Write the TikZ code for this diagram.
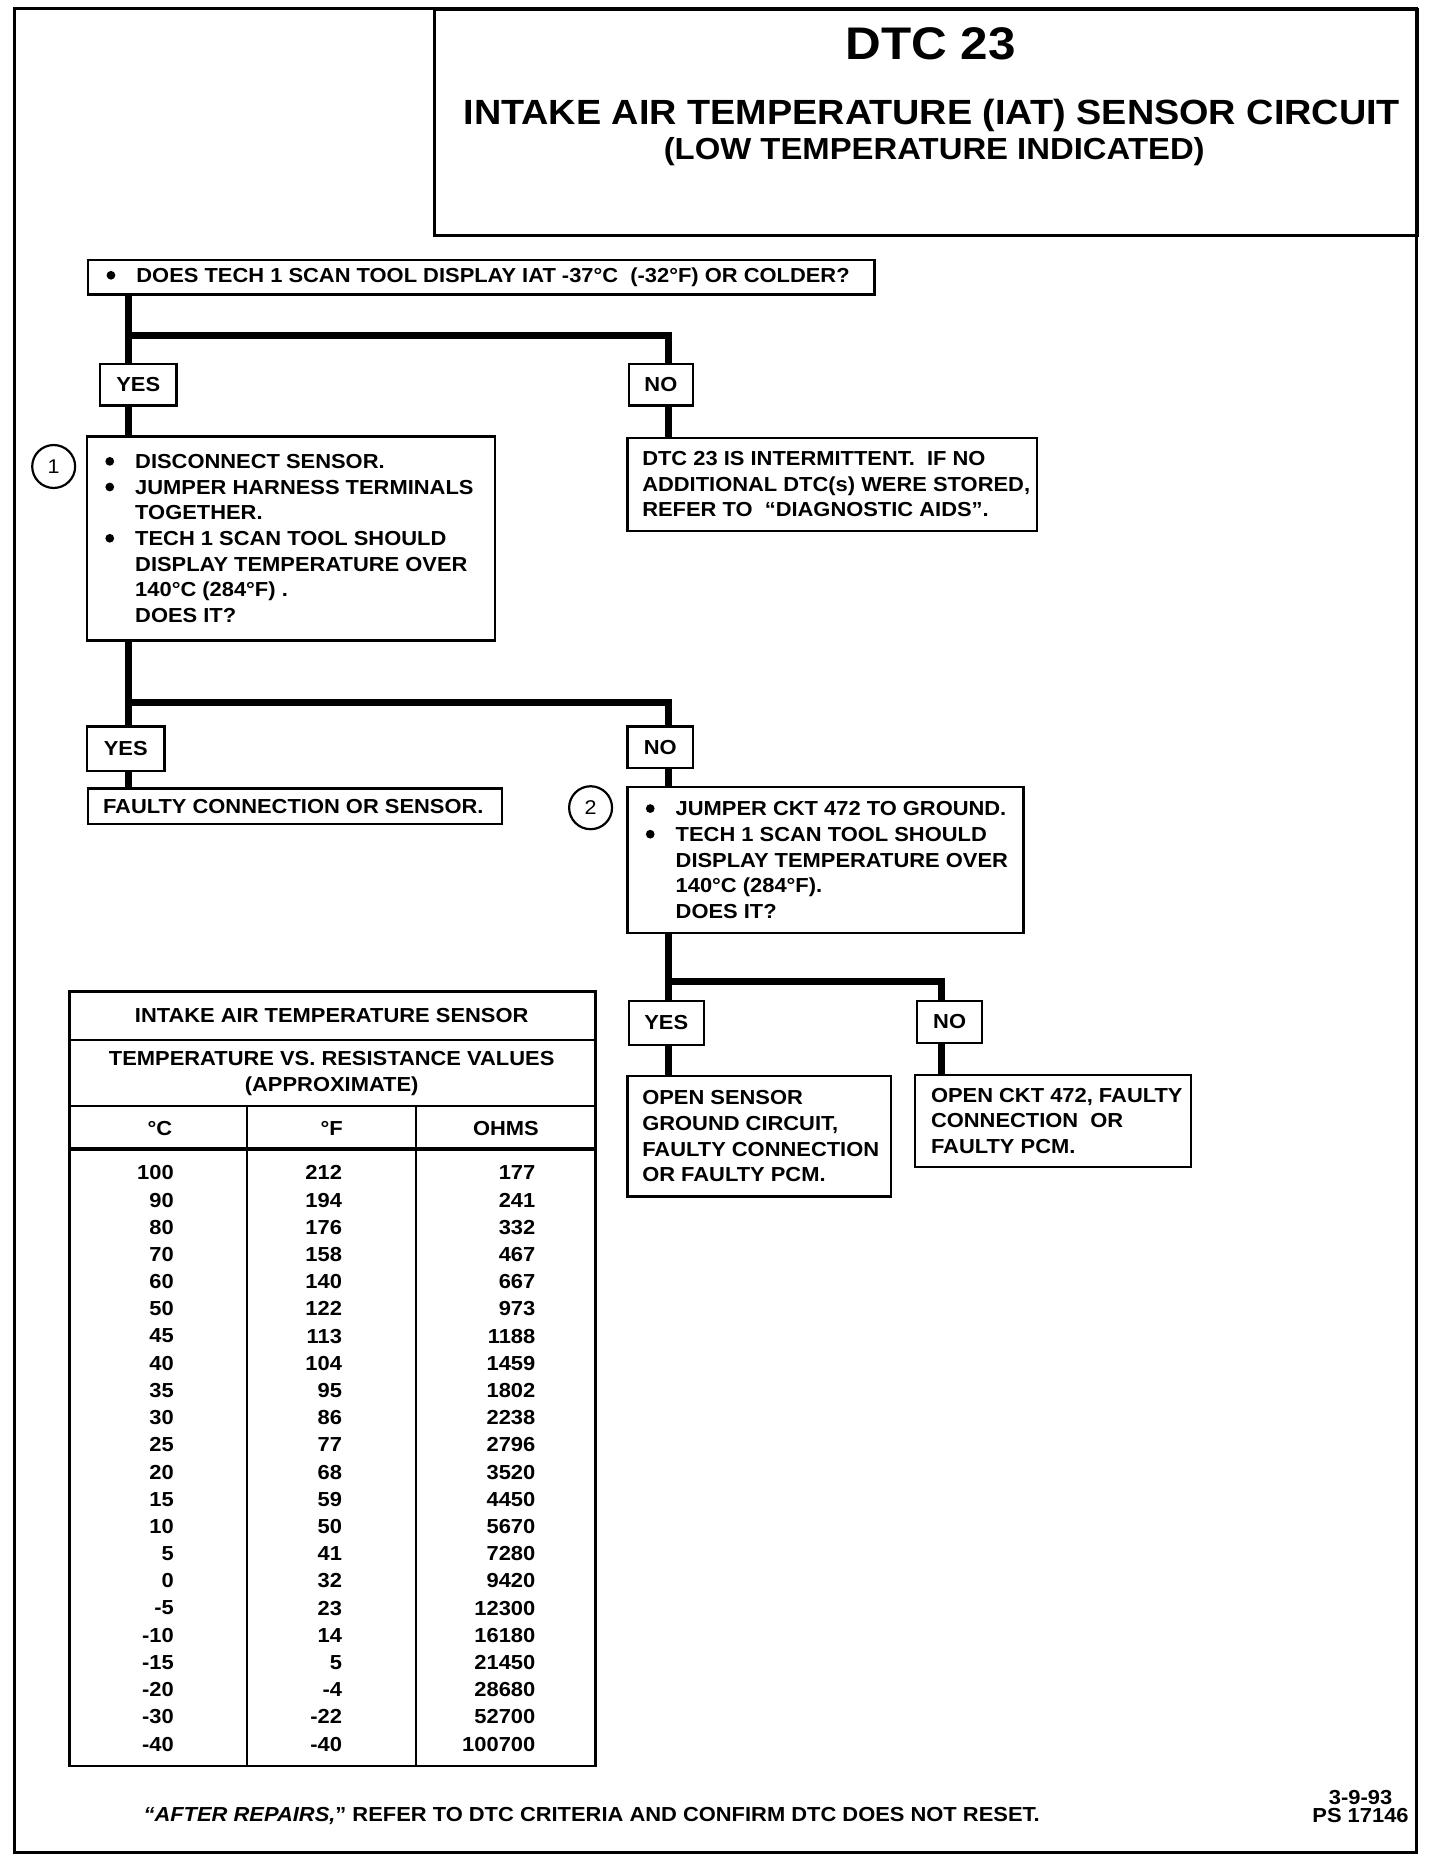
\documentclass[tikz,border=0pt]{standalone}
\usepackage{fontspec}
\setmainfont{Liberation Sans}[FakeStretch=1.08]

\newcommand{\itemdot}{\makebox[15pt][l]{\tikz[baseline=-3.65pt]\fill (2.2pt,0pt) circle (2.2pt);}}
\newcommand{\itemgap}{\hspace*{15pt}}

\tikzset{
  box/.style={draw, line width=1.1pt, anchor=north west, inner sep=0pt},
  ans/.style={box, align=center},
  txt/.style={anchor=west, align=left, inner sep=0pt},
  wire/.style={line width=3.5pt},
  num/.style={circle, draw, line width=1.1pt, minimum size=21.6pt, inner sep=0pt, font=\mdseries},
  cell/.style={anchor=east, inner sep=0pt}
}

\begin{document}
\begin{tikzpicture}[x=0.6pt, y=-0.6pt, font=\bfseries\fontsize{10.2}{12.9}\selectfont]
\useasboundingbox (0,0) rectangle (1207,1564);
\draw[line width=1.5pt] (12,7) rectangle (1187,1553);
% title
\node[box, line width=1.5pt, minimum width=494.4pt, minimum height=113.4pt] (title) at (363,7) {};
\node (dtc) at (780,37) {\fontsize{23}{26}\selectfont DTC 23};
\node (head) at (781,97) {\fontsize{17.6}{20}\selectfont INTAKE AIR TEMPERATURE (IAT) SENSOR CIRCUIT};
\node (sub) at (783,127) {\fontsize{15.3}{18}\selectfont (LOW TEMPERATURE INDICATED)};
% first question
\node[box, minimum width=395.4pt, minimum height=17.4pt] (q1) at (73,217) {};
\node[txt] (q1t) at ([xshift=9.6pt]q1.west) {\itemdot DOES TECH 1 SCAN TOOL DISPLAY IAT -37°C\ \ (-32°F) OR COLDER?};
\node[ans, minimum width=38.4pt, minimum height=21pt] (yes1) at (83,304) {YES};
\node[ans, minimum width=32.4pt, minimum height=21pt] (no1) at (526,304) {NO};
\node[box, minimum width=205.2pt, minimum height=102.6pt] (chk1) at (72,365) {};
\node[txt] (chk1t) at ([xshift=9.6pt]chk1.west) {\itemdot DISCONNECT SENSOR.\\
  \itemdot JUMPER HARNESS TERMINALS\\
  \itemgap TOGETHER.\\
  \itemdot TECH 1 SCAN TOOL SHOULD\\
  \itemgap DISPLAY TEMPERATURE OVER\\
  \itemgap 140°C (284°F) .\\
  \itemgap DOES IT?};
\node[num] (n1) at (45,391) {1};
\node[box, minimum width=205.8pt, minimum height=46.8pt] (int) at (525,366) {};
\node[txt] (intt) at ([xshift=7.8pt]int.west) {DTC 23 IS INTERMITTENT.\ \ IF NO\\
  ADDITIONAL DTC(s) WERE STORED,\\
  REFER TO\ \ “DIAGNOSTIC AIDS”.};
% second question
\node[ans, minimum width=39pt, minimum height=22.2pt] (yes2) at (72,608) {YES};
\node[ans, minimum width=33pt, minimum height=21pt] (no2) at (525,608) {NO};
\node[box, minimum width=208.2pt, minimum height=18pt] (flt) at (73,660) {};
\node[txt] (fltt) at ([xshift=7.8pt]flt.west) {FAULTY CONNECTION OR SENSOR.};
\node[box, minimum width=199.2pt, minimum height=73.2pt] (chk2) at (525,659) {};
\node[txt] (chk2t) at ([xshift=9.6pt]chk2.west) {\itemdot JUMPER CKT 472 TO GROUND.\\
  \itemdot TECH 1 SCAN TOOL SHOULD\\
  \itemgap DISPLAY TEMPERATURE OVER\\
  \itemgap 140°C (284°F).\\
  \itemgap DOES IT?};
\node[num] (n2) at (495,677) {2};
% third question
\node[ans, minimum width=37.8pt, minimum height=22.2pt] (yes3) at (526,838) {YES};
\node[ans, minimum width=32.4pt, minimum height=21pt] (no3) at (768,838) {NO};
\node[box, minimum width=132.6pt, minimum height=60.6pt] (gnd) at (525,901) {};
\node[txt] (gndt) at ([xshift=7.8pt]gnd.west) {OPEN SENSOR\\
  GROUND CIRCUIT,\\
  FAULTY CONNECTION\\
  OR FAULTY PCM.};
\node[box, minimum width=138.6pt, minimum height=46.2pt] (ckt) at (766,900) {};
\node[txt] (cktt) at ([xshift=8.4pt]ckt.west) {OPEN CKT 472, FAULTY\\
  CONNECTION\ \ OR\\
  FAULTY PCM.};
% connectors
\coordinate (j1) at (108,281);
\coordinate (k1) at (560,281);
\draw[wire] (q1.south -| j1) -- (yes1.north -| j1);
\draw[wire] (j1) -- (k1) -- (no1.north -| k1);
\draw[wire] (yes1.south -| j1) -- (chk1.north -| j1);
\draw[wire] (no1.south -| k1) -- (int.north -| k1);
\coordinate (j2) at (108,589);
\coordinate (k2) at (560,589);
\draw[wire] (chk1.south -| j2) -- (yes2.north -| j2);
\draw[wire] (j2) -- (k2) -- (no2.north -| k2);
\draw[wire] (yes2.south -| j2) -- (flt.north -| j2);
\draw[wire] (no2.south -| k2) -- (chk2.north -| k2);
\coordinate (j3) at (560,823);
\coordinate (k3) at (789,823);
\draw[wire] (chk2.south -| j3) -- (yes3.north -| j3);
\draw[wire] (j3) -- (k3) -- (no3.north -| k3);
\draw[wire] (yes3.south -| j3) -- (gnd.north -| j3);
\draw[wire] (no3.south -| k3) -- (ckt.north -| k3);
% table
\node[box, line width=1.3pt, minimum width=264.6pt, minimum height=389.4pt] (tab) at (57,830) {};
\draw[line width=1.1pt] (57,872) -- (498,872);
\draw[line width=1.1pt] (57,927) -- (498,927);
\draw[line width=2pt] (57,963) -- (498,963);
\draw[line width=1.1pt] (207,927) -- (207,1479);
\draw[line width=1.1pt] (349,927) -- (349,1479);
\node (tabh) at (278,851) {INTAKE AIR TEMPERATURE SENSOR};
\node[align=center] (tabs) at (278,900) {TEMPERATURE VS. RESISTANCE VALUES\\(APPROXIMATE)};
\node (hc) at (134,946) {°C};
\node (hf) at (278,946) {°F};
\node (ho) at (424,946) {OHMS};
\foreach \vc/\vf/\vr [count=\i from 0] in {100/212/177, 90/194/241, 80/176/332, 70/158/467,
    60/140/667, 50/122/973, 45/113/1188, 40/104/1459, 35/95/1802, 30/86/2238, 25/77/2796,
    20/68/3520, 15/59/4450, 10/50/5670, 5/41/7280, 0/32/9420, -5/23/12300, -10/14/16180,
    -15/5/21450, -20/-4/28680, -30/-22/52700, -40/-40/100700}{
  \node[cell] (c\i) at (146,{983+22.8*\i}) {\vc};
  \node[cell] (f\i) at (287,{983+22.8*\i}) {\vf};
  \node[cell] (r\i) at (449,{983+22.8*\i}) {\vr};
}
% footer
\node[anchor=west, inner sep=0pt] (note) at (120,1522) {{\itshape “AFTER REPAIRS,}” REFER TO DTC CRITERIA AND CONFIRM DTC DOES NOT RESET.};
\node[align=center, anchor=east, inner sep=0pt, font=\bfseries\fontsize{10.2}{9}\selectfont] (date) at (1181,1514) {3-9-93\\PS 17146};
\end{tikzpicture}
\end{document}
